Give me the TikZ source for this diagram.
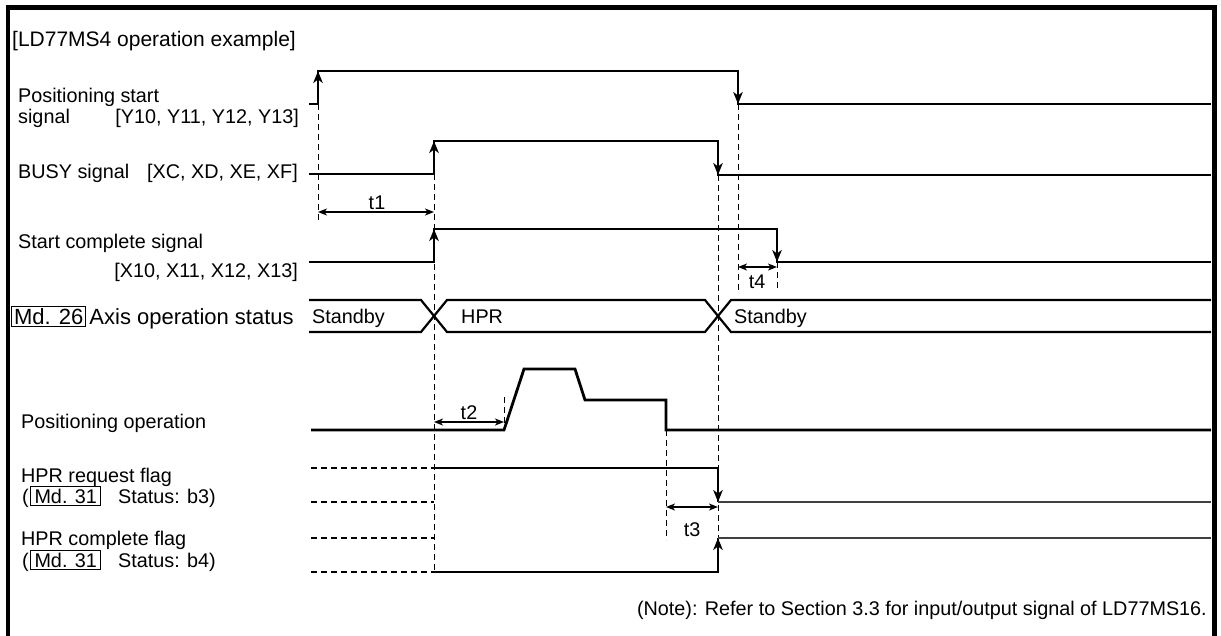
\documentclass[tikz,border=0pt]{standalone}
\usepackage{fontspec}
\setmainfont{Liberation Sans}
\usetikzlibrary{arrows.meta}
\begin{document}
\begin{tikzpicture}[x=1pt,y=-1pt,
  lbl/.style={font=\fontsize{19.8}{23}\selectfont, inner sep=0pt},
  sig/.style={line width=2.8pt},
  thinsig/.style={line width=1.6pt, black!75},
  edgearrow/.style={line width=2.8pt, -{Stealth[length=12pt,width=9.5pt,inset=3.5pt]}},
  guide/.style={line width=0.9pt, dash pattern=on 6pt off 4pt},
  flagdash/.style={line width=2pt, dash pattern=on 6pt off 4pt},
  dim/.style={line width=1.3pt, {Stealth[length=9pt,width=7pt,inset=2.5pt]}-{Stealth[length=9pt,width=7pt,inset=2.5pt]}},
  bus/.style={line width=2.2pt},
  mdbox/.style={font=\fontsize{19.8}{23}\selectfont, draw, line width=1pt, inner xsep=4pt, inner ysep=2.5pt, text height=14pt, text depth=0pt}
]
\useasboundingbox (0,0) rectangle (1221,635);
% frame
\draw[line width=4.5pt] (8,645) -- (8,7.5) -- (1214.5,7.5) -- (1214.5,645);

% labels
\node[lbl, font=\fontsize{21}{24}\selectfont, anchor=base west] (title) at (12,46) {[LD77MS4 operation example]};
\node[lbl, anchor=base west] (ps1) at (18,102) {Positioning start};
\node[lbl, anchor=base west] (ps2) at (18,123) {signal};
\node[lbl, anchor=base east] (ps3) at (299,123) {[Y10, Y11, Y12, Y13]};
\node[lbl, anchor=base west] (busy1) at (18,178) {BUSY signal};
\node[lbl, anchor=base east] (busy2) at (298,178) {[XC, XD, XE, XF]};
\node[lbl, anchor=base west] (sc1) at (18,248) {Start complete signal};
\node[lbl, anchor=base east] (sc2) at (298,277) {[X10, X11, X12, X13]};
\node[mdbox, font=\fontsize{22}{24}\selectfont, inner xsep=2.5pt, text height=15pt, anchor=base west] (md26) at (11,324) {Md. 26};
\node[lbl, font=\fontsize{22}{24}\selectfont, anchor=base west] (ax) at ([xshift=3pt]md26.base east) {Axis operation status};
\node[lbl, anchor=base west] (st1) at (312,323) {Standby};
\node[lbl, anchor=base west] (st2) at (461,323) {HPR};
\node[lbl, anchor=base west] (st3) at (734,323) {Standby};
\node[lbl, anchor=base west] (po) at (21,428) {Positioning operation};
\node[lbl, anchor=base west] (rq1) at (21,482) {HPR request flag};
\node[lbl, anchor=base west] (rq2) at (22,503) {(};
\node[mdbox, anchor=base west] (md31a) at (30,503) {Md. 31};
\node[lbl, anchor=base west] (rq3) at (118,503) {Status: b3)};
\node[lbl, anchor=base west] (cp1) at (21,545) {HPR complete flag};
\node[lbl, anchor=base west] (cp2) at (22,567) {(};
\node[mdbox, anchor=base west] (md31b) at (30,567) {Md. 31};
\node[lbl, anchor=base west] (cp3) at (118,567) {Status: b4)};
\node[lbl, anchor=base] (t1) at (377,209) {t1};
\node[lbl, anchor=base] (t2) at (469,419) {t2};
\node[lbl, anchor=base] (t3) at (692,536) {t3};
\node[lbl, anchor=base] (t4) at (757,288) {t4};
\node[lbl, anchor=base east] (note) at (1207,615) {(Note): Refer to Section 3.3 for input/output signal of LD77MS16.};

% guide lines
\draw[guide] (318,104) -- (318,222);
\draw[guide] (434,174) -- (434,572);
\draw[guide] (504,397) -- (504,430);
\draw[guide] (666,430) -- (666,540);
\draw[guide] (718,175) -- (718,538);
\draw[guide] (738,104) -- (738,290);
\draw[guide] (777,262) -- (777,290);

% positioning start
\draw[sig] (309,104) -- (318,104) -- (318,71) -- (738,71) -- (738,104) -- (1211,104);
\draw[edgearrow] (318,90) -- (318,71);
\draw[edgearrow] (738,85) -- (738,104);
% busy
\draw[sig] (309,174) -- (434,174) -- (434,141) -- (718,141) -- (718,175) -- (1211,175);
\draw[edgearrow] (434,160) -- (434,141);
\draw[edgearrow] (718,156) -- (718,175);
% start complete
\draw[sig] (309,262) -- (434,262) -- (434,229) -- (777,229) -- (777,262) -- (1211,262);
\draw[edgearrow] (434,248) -- (434,229);
\draw[edgearrow] (777,243) -- (777,262);
% status bus
\draw[bus] (309,300) -- (421,300) -- (447,332) -- (705,332) -- (731,300) -- (1211,300);
\draw[bus] (309,332) -- (421,332) -- (447,300) -- (705,300) -- (731,332) -- (1211,332);
% positioning operation
\draw[sig] (311,430) -- (504,430) -- (524,369) -- (575,369) -- (585,400) -- (666,400) -- (666,430) -- (1211,430);
% HPR request flag
\draw[flagdash] (311,468) -- (434,468);
\draw[flagdash] (311,502) -- (434,502);
\draw[sig] (434,468) -- (718,468) -- (718,502);
\draw[edgearrow] (718,483) -- (718,502);
\draw[thinsig] (718,502) -- (1211,502);
% HPR complete flag
\draw[flagdash] (311,538) -- (434,538);
\draw[flagdash] (311,572) -- (434,572);
\draw[sig] (434,572) -- (718,572) -- (718,538);
\draw[edgearrow] (718,557) -- (718,538);
\draw[thinsig] (718,538) -- (1211,538);

% dimension arrows
\draw[dim] (318,212) -- (434,212);
\draw[dim] (434,422) -- (504,422);
\draw[dim] (666,507) -- (718,507);
\draw[dim] (738,267) -- (777,267);
\end{tikzpicture}
\end{document}
